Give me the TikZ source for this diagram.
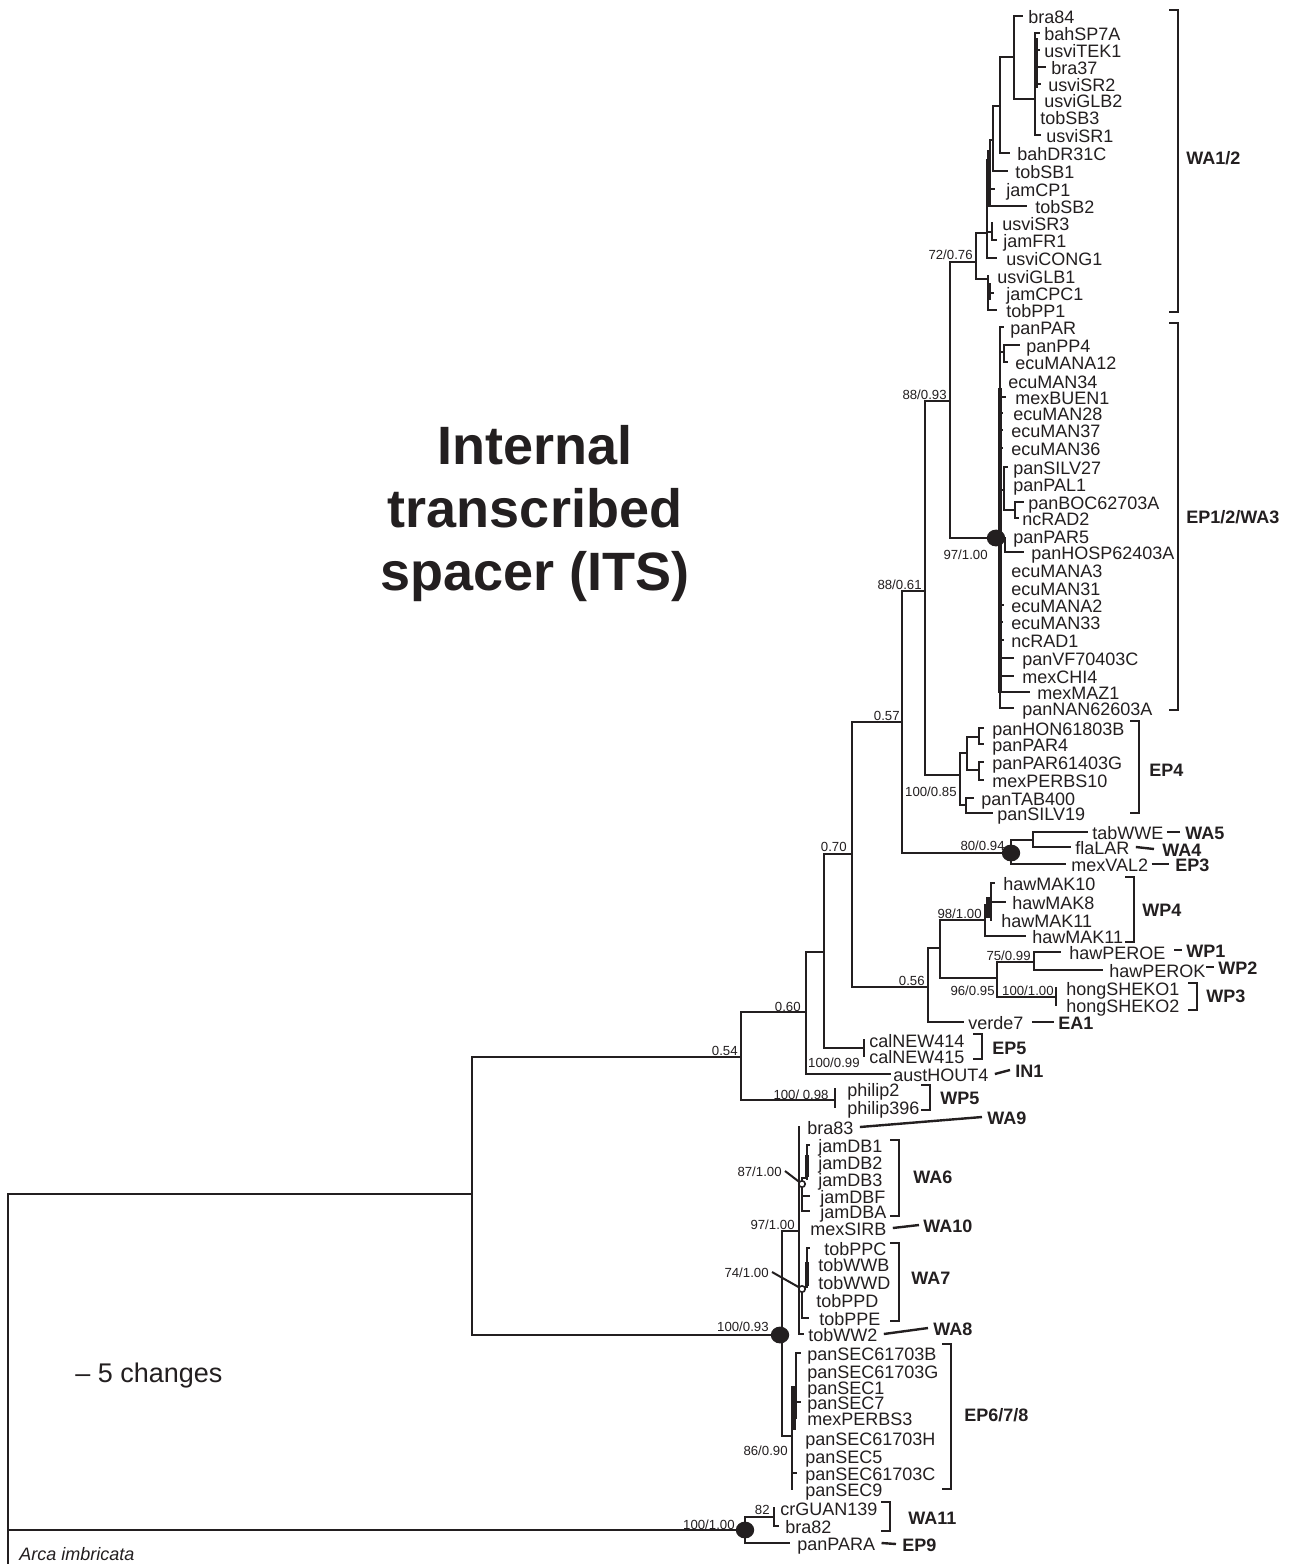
\documentclass[tikz,border=0pt]{standalone}
\usepackage{fontspec}
\setmainfont{Liberation Sans}
\definecolor{ink}{RGB}{35,31,32}
\newcommand\tip[5]{\coordinate (#1) at (#2,#3); \node[leaf] (#1-l) at (#4,#3) {#5};}
\newcommand\kids[2]{\foreach \ch in {#2}{\draw[br] (#1) |- (\ch);}}
\newcommand\grpbracket[3]{\draw[brk] (#1-9,#2) -- (#1,#2) -- (#1,#3) -- (#1-9,#3);}
\newcommand\bigdot[1]{\fill[ink] (#1) ellipse [x radius=4.6pt, y radius=4.2pt];}
\begin{document}
\begin{tikzpicture}[x=0.5pt,y=-0.5pt,
  br/.style={line width=1.3pt, color=ink, line cap=rect},
  thk/.style={line width=2.4pt, color=ink},
  brk/.style={line width=1.2pt, color=ink},
  lnk/.style={line width=1.2pt, color=ink},
  ldr/.style={line width=1pt, color=ink},
  leaf/.style={anchor=west, inner sep=0pt, text height=0.7em, text depth=0pt, font=\fontsize{9}{10}\selectfont, text=ink},
  sup/.style={anchor=east, inner sep=0pt, text height=0.7em, text depth=0pt, font=\fontsize{6.6}{7}\selectfont, text=ink},
  grp/.style={anchor=west, inner sep=0pt, text height=0.7em, text depth=0pt, font=\fontsize{9}{10}\selectfont\bfseries, text=ink},
  ocirc/.style={circle, draw=ink, fill=white, line width=0.8pt, inner sep=0pt, minimum size=3.2pt}]
\fill[white] (0,0) rectangle (1290,1564);
\useasboundingbox (0,0) rectangle (1290,1564);

% ---------- title and scale ----------
\node[align=center, font=\fontsize{27}{31.5}\selectfont\bfseries, text=ink] (title) at (535,514) {Internal\\transcribed\\spacer (ITS)};
\node[anchor=west, inner sep=0pt, text height=0.7em, text depth=0pt, font=\fontsize{13.5}{15}\selectfont, text=ink] (scalebar) at (75,1375) {– 5 changes};

% ---------- internal nodes ----------
\coordinate (root) at (8,1194);
\coordinate (arcaT) at (8,1600);
\coordinate (Y) at (472,1194);
\coordinate (n054) at (741,1057);
\coordinate (n060) at (806,1012);
\coordinate (nX) at (824,952);
\coordinate (ncal) at (864,1048);
\coordinate (nphil) at (835,1100);
\coordinate (n070) at (852,854);
\coordinate (n057) at (902,722);
\coordinate (n8861) at (925,591);
\coordinate (n8893) at (950,401);
\coordinate (WA12) at (976,262);
\coordinate (A1) at (987,233);
\coordinate (A2) at (988,279);
\coordinate (PSR) at (992,232);
\coordinate (L3) at (990,160);
\coordinate (L2) at (993,140);
\coordinate (L1) at (1000,106);
\coordinate (B) at (1014,57);
\coordinate (C1) at (1035,99);
\coordinate (E0) at (1000,538);
\coordinate (EPP) at (1004,352);
\coordinate (ESI) at (1004,490);
\coordinate (EBOC) at (1015,510);
\coordinate (EH) at (1005,538);
\coordinate (nEP4) at (960,775);
\coordinate (E4a) at (967,753);
\coordinate (E4a1) at (979,737);
\coordinate (E4a2) at (979,770);
\coordinate (E4c) at (966,805);
\coordinate (D8094) at (1011,853);
\coordinate (F1) at (1033,840);
\coordinate (n056) at (928,987);
\coordinate (G1) at (940,948);
\coordinate (n9800) at (985,920);
\coordinate (H1) at (991,905);
\coordinate (G2) at (997,978);
\coordinate (n7599) at (1034,962);
\coordinate (n10010) at (1056,997);
\coordinate (K0) at (782,1335);
\coordinate (n9700b) at (799,1231);
\coordinate (W6) at (802,1184);
\coordinate (W6a) at (807,1178);
\coordinate (W7) at (802,1289);
\coordinate (W7a) at (807,1287);
\coordinate (n8690) at (792,1436);
\coordinate (S1) at (796,1387);
\coordinate (D100) at (745,1530);
\coordinate (n82) at (774,1517);

% ---------- leaves ----------
\tip{bra84}{1022}{16}{1028}{bra84}
\tip{bahSP7A}{1039}{33}{1044}{bahSP7A}
\tip{usviTEK1}{1039}{50}{1044}{usviTEK1}
\tip{bra37}{1045}{67}{1051}{bra37}
\tip{usviSR2}{1040}{84}{1048}{usviSR2}
\tip{usviGLB2}{1035}{100}{1044}{usviGLB2}
\tip{tobSB3}{1035}{117}{1040}{tobSB3}
\tip{usviSR1}{1040}{135}{1046}{usviSR1}
\tip{bahDR31C}{1009}{153}{1017}{bahDR31C}
\tip{tobSB1}{1007}{171}{1015}{tobSB1}
\tip{jamCP1}{994}{189}{1006}{jamCP1}
\tip{tobSB2}{1026}{206}{1035}{tobSB2}
\tip{usviSR3}{992}{223}{1002}{usviSR3}
\tip{jamFR1}{996}{240}{1003}{jamFR1}
\tip{usviCONG1}{996}{258}{1006}{usviCONG1}
\tip{usviGLB1}{988}{276}{997}{usviGLB1}
\tip{jamCPC1}{993}{293}{1006}{jamCPC1}
\tip{tobPP1}{996}{310}{1006}{tobPP1}

\tip{panPAR}{1003}{327}{1010}{panPAR}
\tip{panPP4}{1019}{345}{1026}{panPP4}
\tip{ecuMANA12}{1007}{362}{1015}{ecuMANA12}
\tip{ecuMAN34}{1000}{381}{1008}{ecuMAN34}
\tip{mexBUEN1}{1005}{397}{1015}{mexBUEN1}
\tip{ecuMAN28}{1002}{413}{1013}{ecuMAN28}
\tip{ecuMAN37}{1002}{430}{1011}{ecuMAN37}
\tip{ecuMAN36}{1002}{448}{1011}{ecuMAN36}
\tip{panSILV27}{1007}{467}{1013}{panSILV27}
\tip{panPAL1}{1004}{484}{1013}{panPAL1}
\tip{panBOC62703A}{1023}{502}{1028}{panBOC62703A}
\tip{ncRAD2}{1018}{518}{1022}{ncRAD2}
\tip{panPAR5}{1000}{536}{1013}{panPAR5}
\tip{panHOSP62403A}{1023}{552}{1031}{panHOSP62403A}
\tip{ecuMANA3}{1000}{570}{1011}{ecuMANA3}
\tip{ecuMAN31}{1000}{588}{1011}{ecuMAN31}
\tip{ecuMANA2}{1003}{605}{1011}{ecuMANA2}
\tip{ecuMAN33}{1002}{622}{1011}{ecuMAN33}
\tip{ncRAD1}{1003}{640}{1011}{ncRAD1}
\tip{panVF70403C}{1013}{658}{1022}{panVF70403C}
\tip{mexCHI4}{1013}{676}{1022}{mexCHI4}
\tip{mexMAZ1}{1029}{692}{1037}{mexMAZ1}
\tip{panNAN62603A}{1013}{708}{1022}{panNAN62603A}

\tip{panHON61803B}{983}{728}{992}{panHON61803B}
\tip{panPAR4}{983}{744}{992}{panPAR4}
\tip{panPAR61403G}{983}{762}{992}{panPAR61403G}
\tip{mexPERBS10}{983}{780}{992}{mexPERBS10}
\tip{panTAB400}{973}{798}{981}{panTAB400}
\tip{panSILV19}{992}{813}{997}{panSILV19}

\tip{tabWWE}{1087}{832}{1092}{tabWWE}
\tip{flaLAR}{1070}{847}{1075}{flaLAR}
\tip{mexVAL2}{1065}{864}{1071}{mexVAL2}

\tip{hawMAK10}{994}{883}{1003}{hawMAK10}
\tip{hawMAK8}{1005}{902}{1012}{hawMAK8}
\tip{hawMAK11a}{991}{920}{1001}{hawMAK11}
\tip{hawMAK11b}{1025}{936}{1032}{hawMAK11}
\tip{hawPEROE}{1060}{952}{1069}{hawPEROE}
\tip{hawPEROK}{1102}{970}{1109}{hawPEROK}
\tip{hongSHEKO1}{1056}{988}{1066}{hongSHEKO1}
\tip{hongSHEKO2}{1056}{1005}{1066}{hongSHEKO2}
\tip{verde7}{963}{1022}{968}{verde7}

\tip{calNEW414}{864}{1040}{869}{calNEW414}
\tip{calNEW415}{864}{1056}{869}{calNEW415}
\tip{austHOUT4}{890}{1074}{893}{austHOUT4}
\tip{philip2}{835}{1089}{847}{philip2}
\tip{philip396}{835}{1107}{847}{philip396}

\tip{bra83}{799}{1127}{807}{bra83}
\tip{jamDB1}{809}{1145}{818}{jamDB1}
\tip{jamDB2}{807}{1162}{818}{jamDB2}
\tip{jamDB3}{807}{1179}{818}{jamDB3}
\tip{jamDBF}{809}{1196}{820}{jamDBF}
\tip{jamDBA}{809}{1211}{820}{jamDBA}
\tip{mexSIRB}{799}{1228}{810}{mexSIRB}
\tip{tobPPC}{809}{1248}{824}{tobPPC}
\tip{tobWWB}{807}{1264}{818}{tobWWB}
\tip{tobWWD}{807}{1282}{818}{tobWWD}
\tip{tobPPD}{802}{1300}{816}{tobPPD}
\tip{tobPPE}{808}{1318}{819}{tobPPE}
\tip{tobWW2}{803}{1334}{808}{tobWW2}

\tip{panSEC61703B}{800}{1353}{807}{panSEC61703B}
\tip{panSEC61703G}{796}{1371}{807}{panSEC61703G}
\tip{panSEC1}{796}{1387}{807}{panSEC1}
\tip{panSEC7}{800}{1402}{807}{panSEC7}
\tip{mexPERBS3}{796}{1418}{807}{mexPERBS3}
\tip{panSEC61703H}{792}{1438}{805}{panSEC61703H}
\tip{panSEC5}{792}{1456}{805}{panSEC5}
\tip{panSEC61703C}{796}{1473}{805}{panSEC61703C}
\tip{panSEC9}{792}{1489}{805}{panSEC9}

\tip{crGUAN139}{774}{1508}{780}{crGUAN139}
\tip{bra82}{778}{1526}{785}{bra82}
\tip{panPARA}{789}{1543}{797}{panPARA}

\node[leaf, font=\fontsize{9}{10}\selectfont\itshape] (arca) at (19,1553) {Arca imbricata};

% ---------- branches ----------
\draw[br] (root) -- (Y);
\draw[br] (root) |- (D100);
\draw[br] (root) -- (arcaT);
\kids{Y}{n054,K0}
\kids{n054}{n060,nphil}
\kids{n060}{nX,austHOUT4}
\kids{nX}{n070,ncal}
\kids{ncal}{calNEW414,calNEW415}
\kids{nphil}{philip2,philip396}
\kids{n070}{n057,n056}
\kids{n057}{n8861,D8094}
\kids{n8861}{n8893,nEP4}
\kids{n8893}{WA12,E0}
\kids{WA12}{A1,A2}
\kids{A1}{L3,tobSB2,PSR,usviCONG1}
\kids{PSR}{usviSR3,jamFR1}
\kids{L3}{L2,jamCP1}
\kids{L2}{L1,tobSB1}
\kids{L1}{B,bahDR31C}
\kids{B}{bra84,C1}
\kids{C1}{bahSP7A,usviTEK1,bra37,usviSR2,usviGLB2,tobSB3,usviSR1}
\kids{A2}{usviGLB1,jamCPC1,tobPP1}
\kids{E0}{panPAR,EPP,ecuMAN34,mexBUEN1,ecuMAN28,ecuMAN37,ecuMAN36,ESI,panPAR5,EH,ecuMANA3,ecuMAN31,ecuMANA2,ecuMAN33,ncRAD1,panVF70403C,mexCHI4,mexMAZ1,panNAN62603A}
\kids{EPP}{panPP4,ecuMANA12}
\kids{ESI}{panSILV27,panPAL1,EBOC}
\kids{EBOC}{panBOC62703A,ncRAD2}
\kids{EH}{panHOSP62403A}
\kids{nEP4}{E4a,E4c}
\kids{E4a}{E4a1,E4a2}
\kids{E4a1}{panHON61803B,panPAR4}
\kids{E4a2}{panPAR61403G,mexPERBS10}
\kids{E4c}{panTAB400,panSILV19}
\kids{D8094}{F1,mexVAL2}
\kids{F1}{tabWWE,flaLAR}
\kids{n056}{G1,verde7}
\kids{G1}{n9800,G2}
\kids{n9800}{H1,hawMAK11b}
\kids{H1}{hawMAK10,hawMAK8,hawMAK11a}
\kids{G2}{n7599,n10010}
\kids{n7599}{hawPEROE,hawPEROK}
\kids{n10010}{hongSHEKO1,hongSHEKO2}
\kids{K0}{n9700b,n8690}
\kids{n9700b}{bra83,W6,mexSIRB,W7,tobWW2}
\kids{W6}{W6a,jamDBF,jamDBA}
\kids{W6a}{jamDB1,jamDB2,jamDB3}
\kids{W7}{W7a,tobPPD,tobPPE}
\kids{W7a}{tobPPC,tobWWB,tobWWD}
\kids{n8690}{S1,panSEC61703H,panSEC5,panSEC61703C,panSEC9}
\kids{S1}{panSEC61703B,panSEC61703G,panSEC1,panSEC7,mexPERBS3}
\kids{D100}{n82,panPARA}
\kids{n82}{crGUAN139,bra82}

% thick (near-zero-length) segments
\draw[thk] (1000,388) -- (1000,693);
\draw[thk] (1036,38) -- (1036,88);
\draw[thk] (989,150) -- (989,206);
\draw[thk] (989,283) -- (989,300);
\draw[thk] (988,897) -- (988,918);
\draw[thk] (807,1155) -- (807,1177);
\draw[thk] (807,1262) -- (807,1286);
\draw[thk] (794,1387) -- (794,1430);

% supported nodes
\coordinate (dotA) at (996,538);
\coordinate (dotB) at (1011,853);
\coordinate (dotC) at (780,1335);
\coordinate (dotD) at (745,1530);
\bigdot{dotA}
\bigdot{dotB}
\bigdot{dotC}
\bigdot{dotD}
\node[ocirc] (c87) at (802,1184) {};
\node[ocirc] (c74) at (802,1289) {};

% ---------- support values ----------
\node[sup] (s1) at (973,252) {72/0.76};
\node[sup] (s2) at (947,392) {88/0.93};
\node[sup] (s3) at (988,552) {97/1.00};
\node[sup] (s4) at (922,582) {88/0.61};
\node[sup] (s5) at (900,713) {0.57};
\node[sup] (s6) at (957,789) {100/0.85};
\node[sup] (s7) at (1005,843) {80/0.94};
\node[sup] (s8) at (847,844) {0.70};
\node[sup] (s9) at (982,911) {98/1.00};
\node[sup] (s10) at (1031,953) {75/0.99};
\node[sup] (s11) at (925,978) {0.56};
\node[sup] (s12) at (995,988) {96/0.95};
\node[sup] (s13) at (1054,988) {100/1.00};
\node[sup] (s14) at (801,1004) {0.60};
\node[sup] (s15) at (738,1048) {0.54};
\node[sup] (s16) at (860,1060) {100/0.99};
\node[sup] (s17) at (829,1092) {100/ 0.98};
\node[sup] (s87) at (782,1169) {87/1.00};
\node[sup] (s18) at (795,1222) {97/1.00};
\node[sup] (s74) at (769,1270) {74/1.00};
\node[sup] (s19) at (769,1324) {100/0.93};
\node[sup] (s20) at (788,1448) {86/0.90};
\node[sup] (s21) at (770,1507) {82};
\node[sup] (s22) at (735,1522) {100/1.00};
\draw[ldr] ([xshift=1.5pt,yshift=-1pt]s87.east) -- (c87);
\draw[ldr] ([xshift=1.5pt,yshift=-1pt]s74.east) -- (c74);

% ---------- groups ----------
\node[grp] (gWA12) at (1186,157) {WA1/2};
\node[grp] (gEP12) at (1186,516) {EP1/2/WA3};
\node[grp] (gEP4) at (1149,769) {EP4};
\node[grp] (gWA5) at (1185,832) {WA5};
\node[grp] (gWA4) at (1162,849) {WA4};
\node[grp] (gEP3) at (1175,864) {EP3};
\node[grp] (gWP4) at (1142,909) {WP4};
\node[grp] (gWP1) at (1186,950) {WP1};
\node[grp] (gWP2) at (1218,967) {WP2};
\node[grp] (gWP3) at (1206,995) {WP3};
\node[grp] (gEA1) at (1058,1022) {EA1};
\node[grp] (gEP5) at (992,1047) {EP5};
\node[grp] (gIN1) at (1015,1070) {IN1};
\node[grp] (gWP5) at (940,1097) {WP5};
\node[grp] (gWA9) at (987,1117) {WA9};
\node[grp] (gWA6) at (913,1176) {WA6};
\node[grp] (gWA10) at (923,1225) {WA10};
\node[grp] (gWA7) at (911,1277) {WA7};
\node[grp] (gWA8) at (933,1328) {WA8};
\node[grp] (gEP678) at (964,1414) {EP6/7/8};
\node[grp] (gWA11) at (908,1517) {WA11};
\node[grp] (gEP9) at (902,1544) {EP9};

\grpbracket{1178}{10}{312}
\grpbracket{1178}{323}{710}
\grpbracket{1139}{721}{813}
\grpbracket{1134}{877}{942}
\grpbracket{1197}{983}{1010}
\grpbracket{982}{1034}{1059}
\grpbracket{930}{1085}{1110}
\grpbracket{899}{1140}{1216}
\grpbracket{899}{1243}{1321}
\grpbracket{951}{1344}{1489}
\grpbracket{890}{1502}{1531}

\draw[lnk] ([xshift=1.5pt]tabWWE-l.east) -- ([xshift=-2.5pt]gWA5.west);
\draw[lnk] ([xshift=3pt]flaLAR-l.east) -- ([xshift=-4pt]gWA4.west);
\draw[lnk] ([xshift=1.5pt]mexVAL2-l.east) -- ([xshift=-3pt]gEP3.west);
\draw[lnk] ([xshift=-6pt]gWP1.west) -- ([xshift=-2pt]gWP1.west);
\draw[lnk] ([xshift=-6pt]gWP2.west) -- ([xshift=-2pt]gWP2.west);
\draw[lnk] ([xshift=4pt]verde7-l.east) -- ([xshift=-2pt]gEA1.west);
\draw[lnk] ([xshift=3pt]austHOUT4-l.east) -- ([xshift=-2.5pt]gIN1.west);
\draw[lnk] ([xshift=3pt]bra83-l.east) -- ([xshift=-2.5pt]gWA9.west);
\draw[lnk] ([xshift=3pt]mexSIRB-l.east) -- ([xshift=-2pt]gWA10.west);
\draw[lnk] ([xshift=3pt]tobWW2-l.east) -- ([xshift=-2.5pt]gWA8.west);
\draw[lnk] ([xshift=3pt]panPARA-l.east) -- ([xshift=-3pt]gEP9.west);
\end{tikzpicture}
\end{document}
